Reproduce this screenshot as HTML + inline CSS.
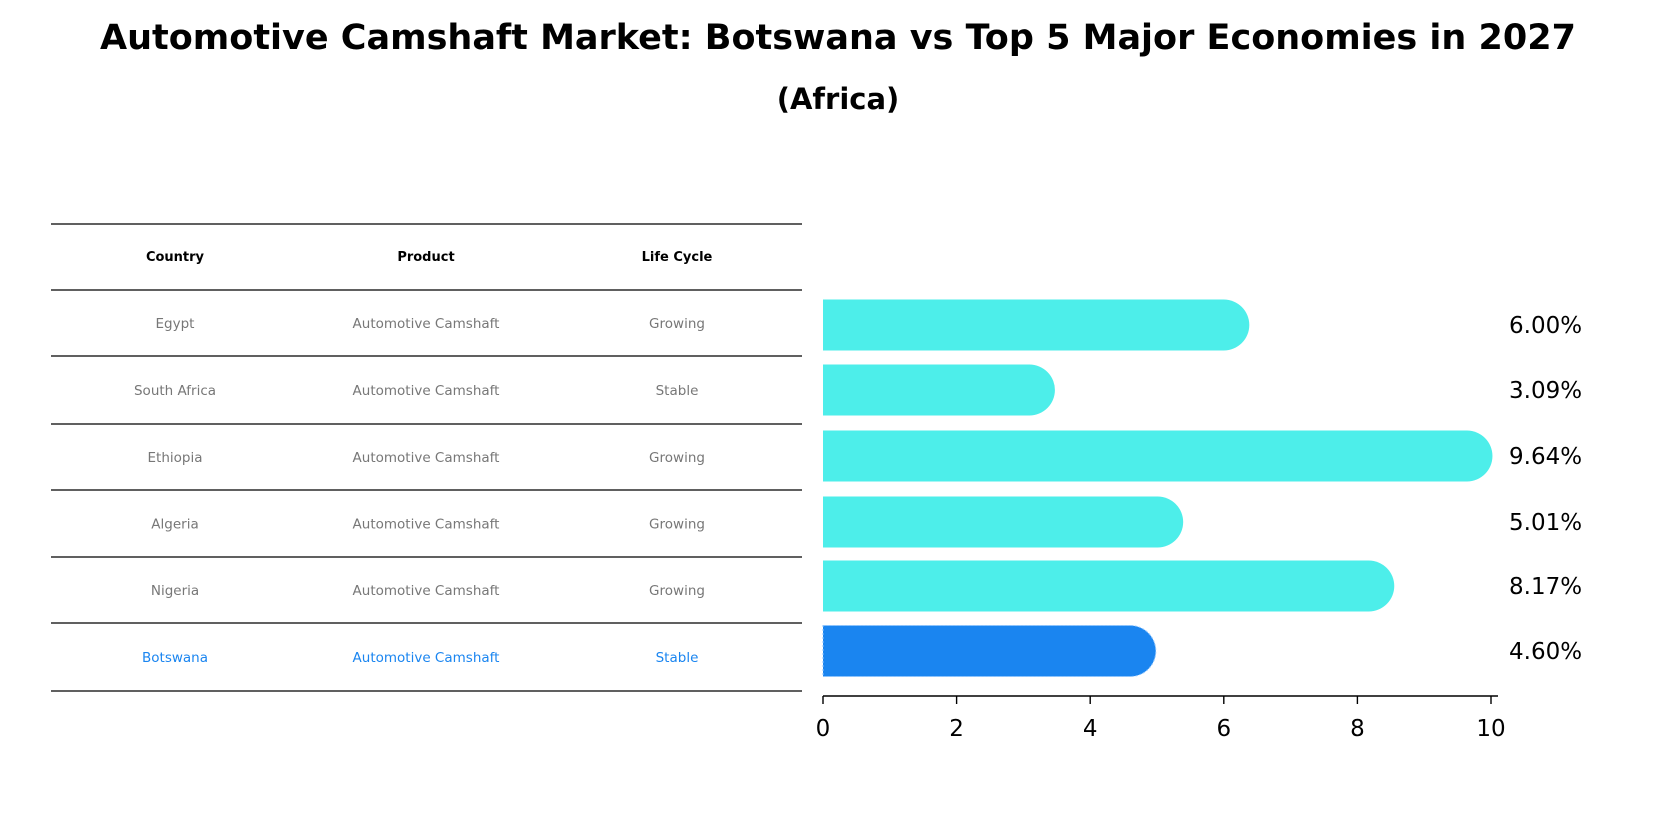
<!DOCTYPE html>
<html><head><meta charset="utf-8"><style>
body{margin:0;background:#fff;}
svg text{font-family:"DejaVu Sans","Liberation Sans",sans-serif;}
</style></head><body>
<svg width="1677" height="823" viewBox="0 0 1677 823">
<text x="838" y="49" text-anchor="middle" font-size="35" font-weight="bold">Automotive Camshaft Market: Botswana vs Top 5 Major Economies in 2027</text>
<text x="838" y="109" text-anchor="middle" font-size="29" font-weight="bold">(Africa)</text>
<g id="table"></g>
<g id="bars"></g>
</svg>
<script>
const countries=["Egypt","South Africa","Ethiopia","Algeria","Nigeria","Botswana"];
const products=["Automotive Camshaft","Automotive Camshaft","Automotive Camshaft","Automotive Camshaft","Automotive Camshaft","Automotive Camshaft"];
const lifeCycles=["Growing","Stable","Growing","Growing","Growing","Stable"];
const values=[6.00,3.09,9.64,5.01,8.17,4.60];
const xTicks=[0,2,4,6,8,10];
const NS="http://www.w3.org/2000/svg";
function mk(tag,attrs,parent){const e=document.createElementNS(NS,tag);for(const k in attrs)e.setAttribute(k,attrs[k]);parent.appendChild(e);return e;}
const tbl=document.getElementById('table');
const lineYs=[224,290,356,424,490,557,623,691];
lineYs.forEach(y=>{const l=mk('line',{x1:51,x2:802,y1:y,y2:y,stroke:'#000','stroke-width':1.2},tbl);

});
const colX=[175,426,677];
["Country","Product","Life Cycle"].forEach((h,i)=>{const t=mk('text',{x:colX[i],y:261,'text-anchor':'middle','font-size':13,'font-weight':'bold'},tbl);t.textContent=h;

});
countries.forEach((c,i)=>{const y=(lineYs[i+1]+lineYs[i+2])/2+5;const hl=c==="Botswana";const col=hl?'#1a85f0':'#777';
[c,products[i],lifeCycles[i]].forEach((v,j)=>{const t=mk('text',{x:colX[j],y:y,'text-anchor':'middle','font-size':13.5,fill:col},tbl);t.textContent=v;

});});
const g=document.getElementById('bars');
const x0=823,x1=1491;const xs=v=>x0+(v/10)*(x1-x0);
const rowC=[325,390,456,522,586,651];const bh=51,r=bh/2;
values.forEach((v,i)=>{const hl=countries[i]==="Botswana";const col=hl?'#1a85f0':'#4deeea';const cy=rowC[i];const xe=xs(v);
const p=mk('path',{d:`M${x0},${cy-r} L${xe},${cy-r} A${r},${r} 0 0 1 ${xe},${cy+r} L${x0},${cy+r} Z`,fill:col},g);
if(hl){p.setAttribute('stroke','#8cc4ff');p.setAttribute('stroke-dasharray','2,2');p.setAttribute('stroke-width','1');}


const t=mk('text',{x:1509,y:cy+8,'font-size':23},g);t.textContent=v.toFixed(2)+'%';

});
const ax=mk('line',{x1:x0,x2:1498,y1:696,y2:696,stroke:'#000','stroke-width':1.6},g);


xTicks.forEach(v=>{const tk=mk('line',{x1:xs(v),x2:xs(v),y1:696,y2:704,stroke:'#000','stroke-width':1.4},g);


const t=mk('text',{x:xs(v),y:736,'text-anchor':'middle','font-size':23},g);t.textContent=v;

});
</script>
</body></html>
